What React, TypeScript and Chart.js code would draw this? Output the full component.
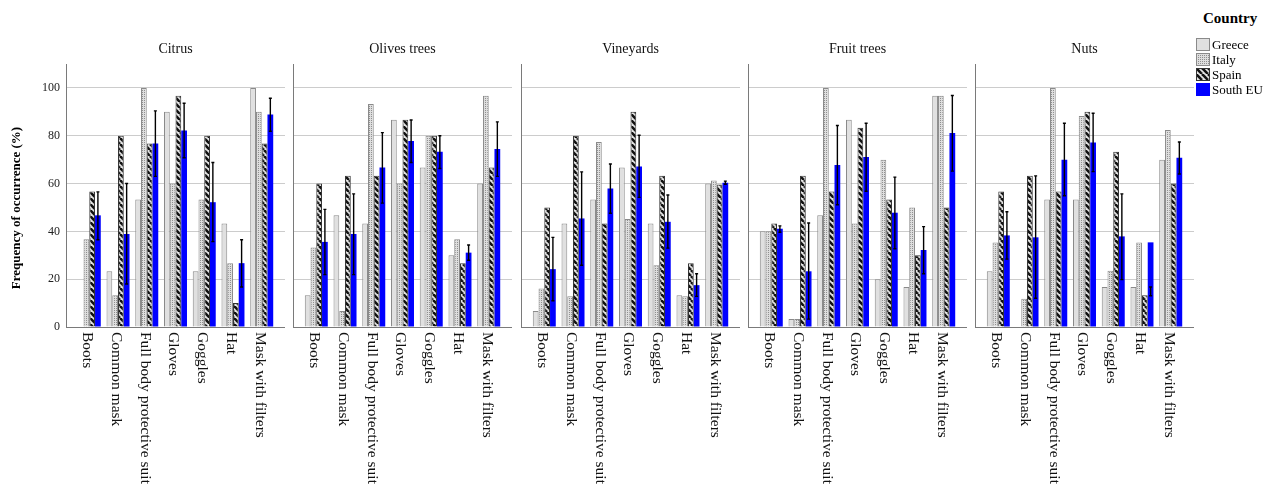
import React, { useEffect, useRef } from "react";
import { Chart, registerables } from "chart.js";
Chart.register(...registerables);

// ---------------- DATA ----------------
const panelTitles = ["Citrus", "Olives trees", "Vineyards", "Fruit trees", "Nuts"];
const categories = [
  "Boots",
  "Common mask",
  "Full body protective suit",
  "Gloves",
  "Goggles",
  "Hat",
  "Mask with filters",
];
const countries = ["Greece", "Italy", "Spain", "South EU"];
const yTickValues = [0, 20, 40, 60, 80, 100];

// one row per panel (Citrus, Olives trees, Vineyards, Fruit trees, Nuts)
const greece = [
  [0, 23.3, 53.3, 90, 23.3, 43.3, 100],
  [13.3, 46.7, 43.3, 86.7, 66.7, 30, 60],
  [6.7, 43.3, 53.3, 66.7, 43.3, 13.3, 60],
  [40, 3.3, 46.7, 86.7, 20, 16.7, 96.7],
  [23.3, 0, 53.3, 53.3, 16.7, 16.7, 70],
];
const italy = [
  [36.7, 13.3, 100, 60, 53.3, 26.7, 90],
  [33.3, 6.7, 93.3, 60, 80, 36.7, 96.7],
  [16.1, 12.9, 77.4, 45.2, 25.8, 12.9, 61.3],
  [40, 3.3, 100, 43.3, 70, 50, 96.7],
  [35.3, 11.8, 100, 88.2, 23.5, 35.3, 82.4],
];
const spain = [
  [56.7, 80, 76.7, 96.7, 80, 10, 76.7],
  [60, 63.3, 63.3, 86.7, 80, 26.7, 66.7],
  [50, 80, 43.3, 90, 63.3, 26.7, 59.6],
  [43.3, 63.3, 56.7, 83.3, 53.3, 30, 50],
  [56.7, 63.3, 56.7, 90, 73.3, 13.3, 60],
];
const southEU = [
  [46.7, 38.9, 76.7, 82.2, 52.2, 26.7, 88.9],
  [35.6, 38.9, 66.7, 77.8, 73.3, 31.1, 74.4],
  [24.2, 45.4, 57.9, 67.1, 44, 17.5, 60.3],
  [41.1, 23.3, 67.8, 71.1, 47.8, 32.2, 81.1],
  [38.3, 37.5, 70, 77.2, 37.9, 35.4, 70.8],
];
const southEULow = [
  [36.5, 18, 63, 70.8, 35.7, 16.7, 81.9],
  [21.9, 21.9, 51.8, 68.8, 66.3, 27.9, 63],
  [11, 25.8, 47.6, 54.2, 33, 12.8, 59.7],
  [39.6, 3.3, 51.1, 56.8, 32.7, 22.3, 65.2],
  [28.4, 12, 54.9, 65, 19.8, 13.1, 64],
];
const southEUHigh = [
  [56.5, 60, 90.4, 93.6, 68.8, 36.5, 95.7],
  [49.2, 55.7, 81.3, 86.6, 80, 34.3, 85.8],
  [37.5, 64.9, 68.2, 80.2, 55.2, 22.3, 61],
  [42.3, 43.5, 84.3, 85.2, 62.7, 42, 96.8],
  [48.2, 63.2, 85.2, 89.4, 55.7, 16.7, 77.4],
];

// ---------------- LAYOUT / STYLE ----------------
const W = 1277;
const H = 485;
const FONT = "'Liberation Serif', 'Times New Roman', serif";
const PANEL_W = 219;
const PANEL_PITCH = 227.25;
const FIRST_LEFT = 66;
const AREA_TOP = 64;
const AREA_BOTTOM = 327;
const AXIS_COLOR = "#7a7a7a";
const GRID_COLOR = "#cccccc";

function makeDots(): CanvasPattern | string {
  const c = document.createElement("canvas");
  c.width = 2;
  c.height = 2;
  const g = c.getContext("2d")!;
  g.fillStyle = "#dedede";
  g.fillRect(0, 0, 2, 2);
  g.fillStyle = "#8f8f8f";
  g.fillRect(0, 0, 1, 1);
  return g.createPattern(c, "repeat") || "#cccccc";
}

function makeStripes(): CanvasPattern | string {
  const s = 6;
  const c = document.createElement("canvas");
  c.width = s;
  c.height = s;
  const g = c.getContext("2d")!;
  g.fillStyle = "#e4e4e4";
  g.fillRect(0, 0, s, s);
  g.strokeStyle = "#111111";
  g.lineWidth = 2.6;
  for (const off of [-s, 0, s]) {
    g.beginPath();
    g.moveTo(off, 0);
    g.lineTo(off + s, s);
    g.stroke();
  }
  return g.createPattern(c, "repeat") || "#333333";
}

export default function App() {
  const refs = useRef<(HTMLCanvasElement | null)[]>([]);
  const swatchRefs = useRef<(HTMLCanvasElement | null)[]>([]);

  useEffect(() => {
    const dots = makeDots();
    const stripes = makeStripes();
    const fills = ["#e0e0e0", dots, stripes, "#0000ff"];
    const borders = ["#8a8a8a", "#8a8a8a", "#333333", "#0000ff"];
    const seriesData = [greece, italy, spain, southEU];

    const charts: Chart[] = [];
    panelTitles.forEach((title, p) => {
      const canvas = refs.current[p];
      if (!canvas) return;
      const axisW = p === 0 ? FIRST_LEFT : 4;

      const decor = {
        id: "decor" + p,
        afterDatasetsDraw(chart: any) {
          const ctx = chart.ctx;
          const xs = chart.scales.x;
          const ys = chart.scales.y;
          // error bars
          const meta = chart.getDatasetMeta(3);
          ctx.save();
          ctx.strokeStyle = "#000000";
          ctx.lineWidth = 1.4;
          meta.data.forEach((el: any, i: number) => {
            const x = el.x;
            const y1 = ys.getPixelForValue(southEULow[p][i]);
            const y2 = ys.getPixelForValue(southEUHigh[p][i]);
            ctx.beginPath();
            ctx.moveTo(x, y1);
            ctx.lineTo(x, y2);
            ctx.moveTo(x - 1.5, y1);
            ctx.lineTo(x + 1.5, y1);
            ctx.moveTo(x - 1.5, y2);
            ctx.lineTo(x + 1.5, y2);
            ctx.stroke();
          });
          ctx.restore();

          // category labels, rotated to read downward
          ctx.save();
          ctx.fillStyle = "#111111";
          ctx.font = `15.5px ${FONT}`;
          ctx.textAlign = "left";
          ctx.textBaseline = "middle";
          categories.forEach((c, i) => {
            const x = xs.getPixelForValue(i) - 2;
            ctx.save();
            ctx.translate(x, AREA_BOTTOM + 5);
            ctx.rotate(Math.PI / 2);
            ctx.fillText(c, 0, 0);
            ctx.restore();
          });
          ctx.restore();

          // panel title
          const ca = chart.chartArea;
          ctx.save();
          ctx.fillStyle = "#111111";
          ctx.font = `14px ${FONT}`;
          ctx.textAlign = "center";
          ctx.textBaseline = "middle";
          ctx.fillText(title, (ca.left + ca.right) / 2, 49);
          ctx.restore();

          // y-axis title
          if (p === 0) {
            ctx.save();
            ctx.fillStyle = "#000000";
            ctx.font = `bold 13px ${FONT}`;
            ctx.textAlign = "center";
            ctx.textBaseline = "middle";
            ctx.translate(17, 208);
            ctx.rotate(-Math.PI / 2);
            ctx.fillText("Frequency of occurrence (%)", 0, 0);
            ctx.restore();
          }
        },
      };

      const chart = new Chart(canvas, {
        type: "bar",
        data: {
          datasets: countries.map((name, s) => ({
            label: name,
            data: seriesData[s][p].map((v, i) => ({ x: i, y: v })),
            backgroundColor: fills[s] as any,
            borderColor: borders[s],
            borderWidth: s === 3 ? 0 : 1,
          })),
        },
        options: {
          animation: false,
          responsive: false,
          maintainAspectRatio: false,
          events: [],
          layout: { padding: { left: 0, right: 0, top: AREA_TOP, bottom: 0 } },
          datasets: {
            bar: { categoryPercentage: 0.8, barPercentage: 1.0 },
          },
          plugins: {
            legend: { display: false },
            tooltip: { enabled: false },
            title: { display: false },
          },
          scales: {
            x: {
              type: "linear",
              offset: false,
              min: -0.81,
              max: 6.81,
              afterBuildTicks(scale: any) {
                scale.ticks = categories.map((_, i) => ({ value: i }));
              },
              ticks: { display: false },
              grid: { display: false, offset: false },
              border: { display: true, color: AXIS_COLOR, width: 1 },
              afterFit(scale: any) {
                scale.height = H - AREA_BOTTOM;
              },
            },
            y: {
              type: "linear",
              min: 0,
              max: 110,
              afterBuildTicks(scale: any) {
                scale.ticks = yTickValues.map((v) => ({ value: v }));
              },
              ticks: {
                display: p === 0,
                padding: 6,
                color: "#222222",
                font: { family: FONT, size: 12 },
              },
              grid: {
                color: GRID_COLOR,
                lineWidth: 1,
                drawTicks: false,
              },
              border: { display: true, color: AXIS_COLOR, width: 1 },
              afterFit(scale: any) {
                scale.width = axisW;
              },
            },
          },
        },
        plugins: [decor],
      });
      charts.push(chart);
    });

    // legend swatches
    swatchRefs.current.forEach((c, s) => {
      if (!c) return;
      const g = c.getContext("2d")!;
      g.fillStyle = fills[s] as any;
      g.fillRect(0, 0, c.width, c.height);
      if (s !== 3) {
        g.strokeStyle = borders[s];
        g.lineWidth = 1;
        g.strokeRect(0.5, 0.5, c.width - 1, c.height - 1);
      }
    });

    return () => charts.forEach((c) => c.destroy());
  }, []);

  return (
    <div
      style={{
        position: "fixed",
        left: 0,
        top: 0,
        width: W,
        height: H,
        background: "#ffffff",
        overflow: "hidden",
        fontFamily: FONT,
      }}
    >
      {panelTitles.map((t, p) => {
        const left = p === 0 ? 0 : Math.round(FIRST_LEFT + p * PANEL_PITCH) - 4;
        const width = p === 0 ? FIRST_LEFT + PANEL_W : PANEL_W + 4;
        return (
          <canvas
            key={t}
            ref={(el) => {
              refs.current[p] = el;
            }}
            width={width}
            height={H}
            style={{ position: "absolute", left, top: 0, width, height: H }}
          />
        );
      })}
      <div
        style={{
          position: "absolute",
          left: 1203,
          top: 10,
          fontWeight: "bold",
          fontSize: 15,
          lineHeight: "16px",
          color: "#000",
        }}
      >
        Country
      </div>
      {countries.map((c, s) => (
        <div
          key={c}
          style={{
            position: "absolute",
            left: 1196,
            top: 38 + s * 15,
            height: 13,
            display: "flex",
            alignItems: "center",
            fontSize: 13,
            color: "#000",
            whiteSpace: "nowrap",
          }}
        >
          <canvas
            ref={(el) => {
              swatchRefs.current[s] = el;
            }}
            width={14}
            height={13}
            style={{ width: 14, height: 13, marginRight: 2 }}
          />
          <span style={{ lineHeight: "13px" }}>{c}</span>
        </div>
      ))}
    </div>
  );
}
